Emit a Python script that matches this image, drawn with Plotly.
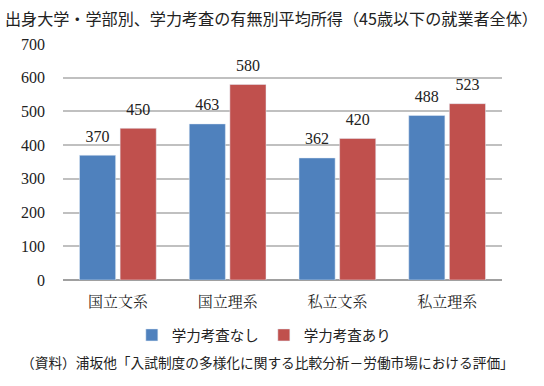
import plotly.graph_objects as go

categories = ["国立文系", "国立理系", "私立文系", "私立理系"]
no_exam = [370, 463, 362, 488]
with_exam = [450, 580, 420, 523]
series_names = ["学力考査なし", "学力考査あり"]
colors = ["#4F81BD", "#C0504D"]
title = "出身大学・学部別、学力考査の有無別平均所得（45歳以下の就業者全体）"
source = "（資料）浦坂他「入試制度の多様化に関する比較分析－労働市場における評価」"

fig = go.Figure()
for name, vals, col, grp in [(series_names[0], no_exam, colors[0], "a"),
                             (series_names[1], with_exam, colors[1], "b")]:
    fig.add_trace(go.Bar(x=categories, y=vals, name=name, marker_color=col,
                         offsetgroup=grp, hoverinfo="y"))
for vals, grp in [(no_exam, "a"), (with_exam, "b")]:
    fig.add_trace(go.Scatter(x=categories, y=vals, mode="markers+text", text=vals,
                             textposition="top center", offsetgroup=grp,
                             marker=dict(size=14, opacity=0), showlegend=False,
                             hoverinfo="skip", cliponaxis=False,
                             textfont=dict(family="Liberation Serif", size=16, color="#222")))

fig.update_layout(
    width=544, height=386,
    margin=dict(l=63, r=42, t=44, b=106, autoexpand=False),
    paper_bgcolor="white", plot_bgcolor="white",
    barmode="group", bargap=0.26, bargroupgap=0.11,
    scattermode="group", scattergap=0.26,
    font=dict(family="Noto Sans CJK JP", size=13, color="#222"),
    showlegend=True,
    legend=dict(orientation="h", xref="container", yref="container",
                x=0.485, xanchor="center", y=1 - 335 / 386, yanchor="middle",
                font=dict(family="Noto Sans CJK JP", size=14.5), itemwidth=30,
                tracegroupgap=0),
)
fig.update_yaxes(range=[0, 700], dtick=100, gridcolor="#C0C0C0", gridwidth=1.5,
                 tickfont=dict(family="Liberation Serif", size=16, color="#222"), ticklen=0,
                 ticklabelstandoff=17,
                 zeroline=True, zerolinecolor="#A0A0A0", zerolinewidth=1.5)
fig.update_xaxes(tickfont=dict(family="Noto Serif CJK JP, Noto Sans CJK JP", size=15),
                 showline=False, ticklabelstandoff=11)

fig.add_annotation(text=title, xref="paper", yref="paper", x=-0.136, y=1.0, yshift=26,
                   xanchor="left", yanchor="middle", showarrow=False,
                   font=dict(family="Noto Sans CJK JP", size=16.1, color="#222"))
fig.add_annotation(text=source, xref="paper", yref="paper", x=0.4647, y=-0.347,
                   xanchor="center", yanchor="middle", showarrow=False,
                   font=dict(family="Noto Sans CJK JP", size=13.7, color="#222"))

fig.write_html("out.html", config={"displayModeBar": False},
               post_script="document.body.style.margin='0';")
